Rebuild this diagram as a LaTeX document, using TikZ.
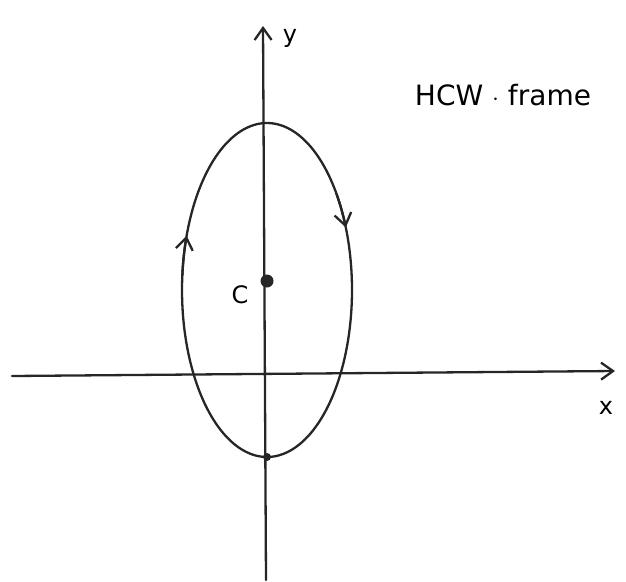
\documentclass[tikz,border=0pt]{standalone}
\usepackage{fontspec}
\setmainfont{DejaVu Sans}
\usetikzlibrary{arrows.meta}
\begin{document}
\begin{tikzpicture}[x=1pt,y=-1pt,
  ink/.style={line width=2.3pt,line cap=round,draw=black!85},
  barb/.style={-{Straight Barb[length=12pt,width=17pt,line width=2.3pt]}},
  lbl/.style={font=\fontsize{24}{26}\selectfont,inner sep=0pt}]
\useasboundingbox (0,0) rectangle (626,581);
% axes
\coordinate (xs) at (12,376);
\coordinate (xe) at (615,371);
\coordinate (ys) at (266,580);
\coordinate (ye) at (263,26);
\draw[ink,barb] (xs) -- (xe);
\draw[ink,barb] (ys) -- (ye);
% orbit
\draw[ink] plot[domain=0:360,samples=120,smooth] ({267+85*cos(\x)},{290+167*sin(\x)});
% direction arrows on orbit
\draw[ink,barb] plot[domain=325:338,samples=6,smooth] ({267+85*cos(\x)},{290+167*sin(\x)});
\draw[ink,barb] plot[domain=185:199,samples=6,smooth] ({267+85*cos(\x)},{290+167*sin(\x)});
% points
\node[circle,fill=black!85,inner sep=0pt,minimum size=13pt] (c) at (267,281) {};
\node[circle,fill=black!85,inner sep=0pt,minimum size=8pt] (p) at (267,457) {};
% labels
\node[lbl] (cl) at (240,295) {C};
\node[lbl] (yl) at (290,38) {y};
\node[lbl] (xl) at (606,408) {x};
\node[font=\fontsize{28}{30}\selectfont,inner sep=0pt] (title) at (503,95) {HCW {\fontsize{40}{40}\selectfont$\cdot$} frame};
\end{tikzpicture}
\end{document}
